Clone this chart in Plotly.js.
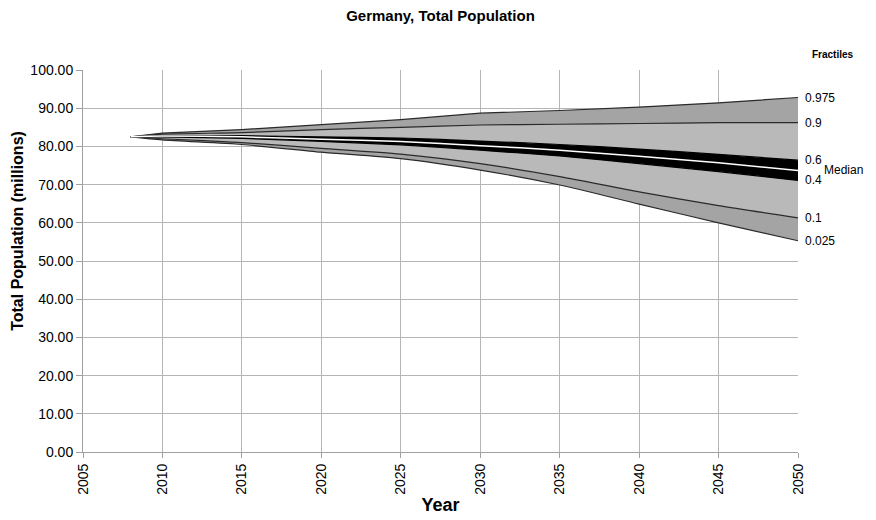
<!DOCTYPE html>
<html>
<head>
<meta charset="utf-8">
<script src="https://cdn.plot.ly/plotly-3.0.1.min.js"></script>
<style>html,body{margin:0;padding:0;background:#fff;}#chart{width:876px;height:520px;}</style>
</head>
<body>
<div id="chart"></div>
<script>
const years  = [2008, 2010, 2015, 2020, 2025, 2030, 2035, 2040, 2045, 2050];
const q975   = [82.5, 83.5, 84.4, 85.7, 87.0, 88.7, 89.4, 90.3, 91.4, 92.8];
const q90    = [82.5, 83.2, 83.6, 84.4, 85.0, 85.6, 85.8, 86.0, 86.2, 86.2];
const q60    = [82.5, 82.9, 82.8, 82.5, 82.2, 81.4, 80.5, 79.3, 77.9, 76.4];
const median = [82.5, 82.7, 82.5, 81.9, 81.3, 80.2, 79.0, 77.4, 75.7, 73.7];
const q40    = [82.5, 82.5, 82.1, 81.3, 80.4, 79.0, 77.5, 75.5, 73.4, 71.1];
const q10    = [82.5, 82.0, 81.0, 79.5, 78.0, 75.5, 72.1, 68.1, 64.5, 61.3];
const q025   = [82.5, 81.7, 80.5, 78.5, 76.8, 73.8, 69.9, 64.9, 60.0, 55.3];
const fractileLabels = ['0.975', '0.9', '0.6', '0.4', '0.1', '0.025'];
const xTicks = [2005, 2010, 2015, 2020, 2025, 2030, 2035, 2040, 2045, 2050];
const yTicks = [0, 10, 20, 30, 40, 50, 60, 70, 80, 90, 100];

const outer = '#a4a4a4', inner = '#b9b9b9', edge = '#2a2a2a';
function tr(y, fill, fc, lc, smooth) {
  return {x: years, y: y, type: 'scatter', mode: 'lines', fill: fill, fillcolor: fc,
          line: {color: lc, width: 1.2, shape: smooth ? 'spline' : 'linear', smoothing: 0.7},
          hoverinfo: 'skip', showlegend: false};
}
const data = [
  tr(q025, 'none', null, edge, true),
  tr(q10, 'tonexty', outer, edge, true),
  tr(q40, 'tonexty', inner, '#000', true),
  tr(q60, 'tonexty', '#000', '#000', true),
  tr(q90, 'tonexty', inner, edge, true),
  tr(q975, 'tonexty', outer, edge, false),
  {x: years, y: median, type: 'scatter', mode: 'lines',
   line: {color: '#fff', width: 1.5, shape: 'spline', smoothing: 0.7},
   hoverinfo: 'skip', showlegend: false}
];

const last = a => a[a.length - 1];
const lastVals = [last(q975), last(q90), last(q60), last(q40), last(q10), last(q025)];
const font = 'Liberation Sans, Arial, sans-serif';
const annotations = fractileLabels.map((t, i) => ({
  x: 2050, y: lastVals[i], xref: 'x', yref: 'y', text: t, showarrow: false,
  xanchor: 'left', xshift: 5, font: {family: font, size: 12, color: '#000'}
}));
annotations.push({x: 2050, y: last(median), xref: 'x', yref: 'y', text: 'Median', showarrow: false,
  xanchor: 'left', xshift: 24, font: {family: font, size: 12, color: '#000'}});
annotations.push({x: 1, y: 1.04, xref: 'paper', yref: 'paper', text: '<b>Fractiles</b>', showarrow: false,
  xanchor: 'left', xshift: 12, yanchor: 'middle', font: {family: font, size: 10, color: '#000'}});
annotations.push({x: 0, y: 0.579, xref: 'paper', yref: 'paper', text: '<b>Total Population (millions)</b>',
  showarrow: false, textangle: -90, xanchor: 'center', yanchor: 'middle', xshift: -65,
  font: {family: font, size: 16, color: '#000'}});

const layout = {
  width: 876, height: 520,
  margin: {l: 83, r: 78, t: 70, b: 68},
  paper_bgcolor: '#fff', plot_bgcolor: '#fff',
  font: {family: font, color: '#000'},
  title: {text: '<b>Germany, Total Population</b>', x: 0.5, xref: 'paper', y: 0.97, yanchor: 'middle',
          font: {family: font, size: 15, color: '#000'}},
  xaxis: {
    range: [2005, 2050], tickvals: xTicks, ticktext: xTicks.map(String), tickangle: -90,
    showgrid: true, gridcolor: '#b5b5b5', gridwidth: 1,
    showline: true, linecolor: '#a0a0a0', linewidth: 1,
    ticks: 'outside', ticklen: 5, tickcolor: '#a0a0a0',
    tickfont: {family: font, size: 14, color: '#000'},
    zeroline: false,
    title: {text: '<b>Year</b>', font: {family: font, size: 18, color: '#000'}, standoff: 4}
  },
  yaxis: {
    range: [0, 100], tickvals: yTicks, ticktext: yTicks.map(v => v.toFixed(2)),
    showgrid: true, gridcolor: '#b5b5b5', gridwidth: 1,
    showline: true, linecolor: '#a0a0a0', linewidth: 1,
    ticks: 'outside', ticklen: 6, tickcolor: '#a0a0a0',
    tickfont: {family: font, size: 14, color: '#000'},
    zeroline: false
  },
  annotations: annotations
};
Plotly.newPlot('chart', data, layout, {displayModeBar: false, staticPlot: true});
</script>
</body>
</html>
